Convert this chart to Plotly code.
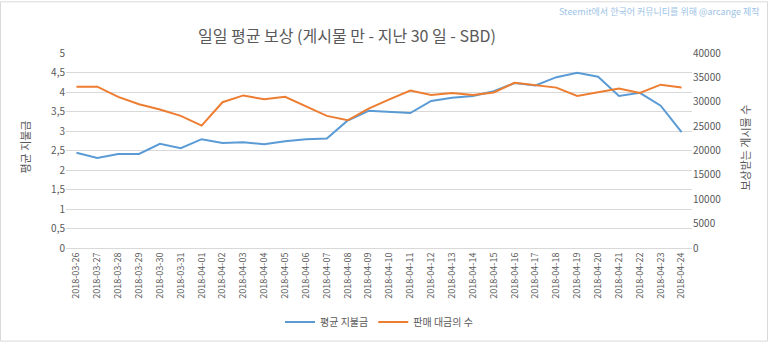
import plotly.graph_objects as go

dates = ["2018-03-26","2018-03-27","2018-03-28","2018-03-29","2018-03-30","2018-03-31",
         "2018-04-01","2018-04-02","2018-04-03","2018-04-04","2018-04-05","2018-04-06",
         "2018-04-07","2018-04-08","2018-04-09","2018-04-10","2018-04-11","2018-04-12",
         "2018-04-13","2018-04-14","2018-04-15","2018-04-16","2018-04-17","2018-04-18",
         "2018-04-19","2018-04-20","2018-04-21","2018-04-22","2018-04-23","2018-04-24"]
avg_payout = [2.44, 2.31, 2.41, 2.41, 2.67, 2.56, 2.79, 2.69, 2.71, 2.66, 2.74, 2.79,
              2.81, 3.27, 3.52, 3.49, 3.46, 3.77, 3.85, 3.90, 4.02, 4.23, 4.17, 4.38,
              4.49, 4.39, 3.90, 3.98, 3.65, 2.97]
post_count = [33100, 33100, 31000, 29500, 28400, 27100, 25100, 29900, 31300, 30500, 31000, 29000,
              27100, 26200, 28600, 30500, 32300, 31400, 31800, 31400, 31900, 33900, 33400, 32900,
              31200, 32000, 32700, 31800, 33500, 32900]
left_ticks = [0, 0.5, 1, 1.5, 2, 2.5, 3, 3.5, 4, 4.5, 5]
left_labels = ["0", "0,5", "1", "1,5", "2", "2,5", "3", "3,5", "4", "4,5", "5"]
right_ticks = [0, 5000, 10000, 15000, 20000, 25000, 30000, 35000, 40000]
right_labels = [str(v) for v in right_ticks]

FONT = "Noto Sans CJK KR"
GRAY = "#595959"

fig = go.Figure()
fig.add_trace(go.Scatter(x=dates, y=avg_payout, mode="lines", name="평균 지불금",
                         line=dict(color="#5B9BD5", width=2)))
fig.add_trace(go.Scatter(x=dates, y=post_count, mode="lines", name="판매 대금의 수",
                         line=dict(color="#ED7D31", width=2), yaxis="y2"))

fig.update_layout(
    width=768, height=349,
    margin=dict(l=66, r=76, t=53, b=96),
    paper_bgcolor="white", plot_bgcolor="white",
    font=dict(family=FONT, color=GRAY, size=10),
    showlegend=True,
    legend=dict(orientation="h", x=0.5, xanchor="center", y=(253 - 329) / 200, yanchor="middle",
                font=dict(size=10, color=GRAY), itemwidth=30),
    xaxis=dict(type="category", range=[-0.5, len(dates) - 0.5], tickangle=-90,
               showgrid=False, showline=True, linecolor="#d9d9d9", ticks="",
               automargin=False, tickfont=dict(size=9, color=GRAY)),
    yaxis=dict(range=[0, 5], tickvals=left_ticks, ticktext=left_labels,
               showgrid=True, gridcolor="#d9d9d9", zeroline=False, ticks="",
               automargin=False, tickfont=dict(size=10, color=GRAY)),
    yaxis2=dict(range=[0, 40000], tickvals=right_ticks, ticktext=right_labels,
                overlaying="y", side="right", automargin=False,
                showgrid=False, zeroline=False, ticks="",
                tickfont=dict(size=10, color=GRAY)),
    annotations=[
        dict(text="일일 평균 보상 (게시물 만 - 지난 30 일 - SBD)", xref="paper", yref="paper",
             x=(347 - 66) / 626, y=(253 - 35) / 200, xanchor="center", yanchor="middle",
             showarrow=False, font=dict(size=16, color=GRAY, family=FONT)),
        dict(text="Steemit에서 한국어 커뮤니티를 위해 @arcange 제작", xref="paper", yref="paper",
             x=(762 - 66) / 626, y=(253 - 10) / 200, xanchor="right", yanchor="middle",
             showarrow=False, font=dict(size=9, color="#9DC3E6", family=FONT)),
        dict(text="평균 지불금", xref="paper", yref="paper", textangle=-90,
             x=(25 - 66) / 626, y=(253 - 150) / 200, xanchor="center", yanchor="middle",
             showarrow=False, font=dict(size=11, color=GRAY, family=FONT)),
        dict(text="보상받는 게시물 수", xref="paper", yref="paper", textangle=-90,
             x=(745 - 66) / 626, y=(253 - 150) / 200, xanchor="center", yanchor="middle",
             showarrow=False, font=dict(size=11, color=GRAY, family=FONT)),
    ],
    shapes=[dict(type="rect", xref="paper", yref="paper",
                 x0=(0.5 - 66) / 626, x1=(767.5 - 66) / 626,
                 y0=(253 - 348.5) / 200, y1=(253 - 0.5) / 200,
                 line=dict(color="#d9d9d9", width=1))],
)

fig.write_html("out.html")
